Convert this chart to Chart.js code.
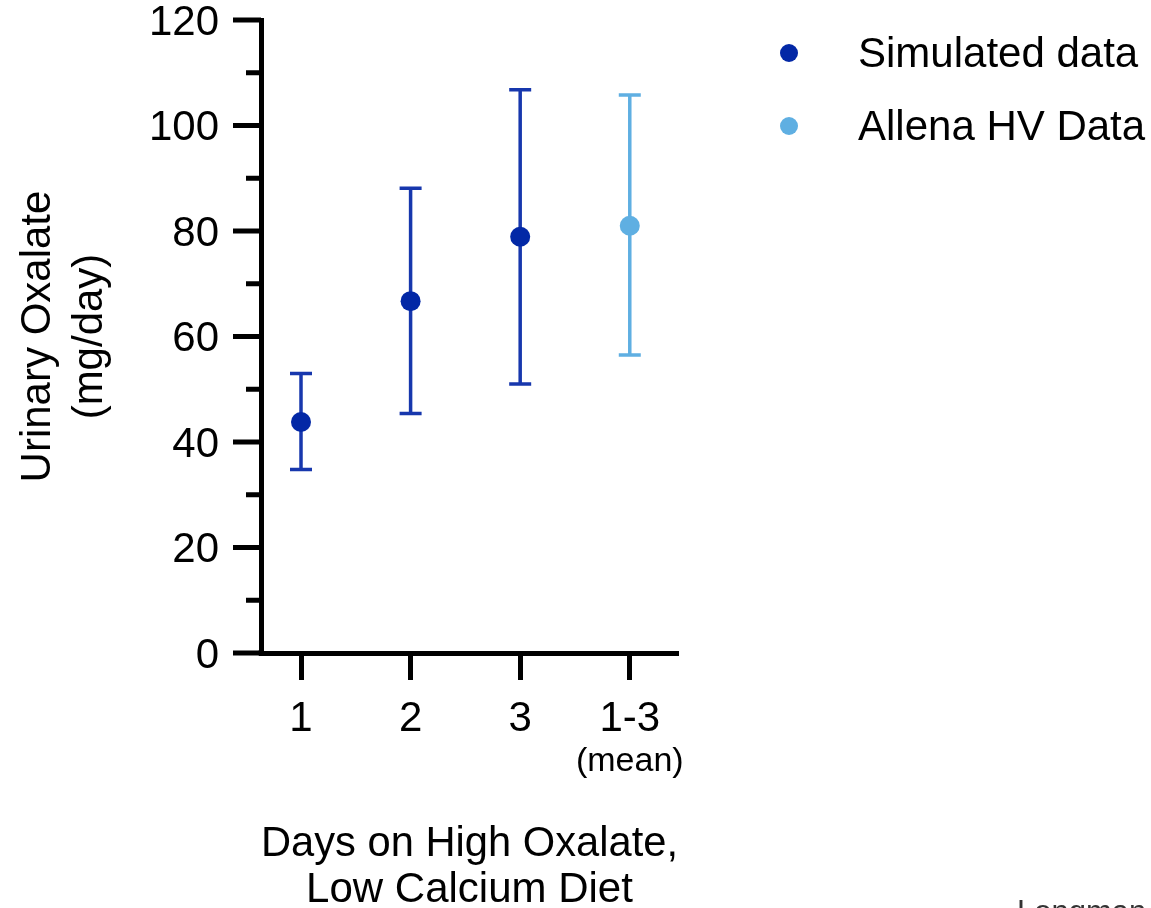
<!DOCTYPE html>
<html lang="en">
<head>
<meta charset="UTF-8">
<title>Urinary Oxalate</title>
<style>
  body { margin: 0; background: #fff; }
  #wrap { width: 1151px; height: 908px; }
</style>
</head>
<body>
<div id="wrap"><canvas id="chart" width="1151" height="908"></canvas></div>
<script src="https://cdn.jsdelivr.net/npm/chart.js"></script>
<script>
// categories on the x axis (position 1..4)
const dayLabels = ['1', '2', '3', '1-3'];
const dayPos = [1, 2, 3, 4];

// simulated data: days 1-3
const simPos = [1, 2, 3];
const simMean = [43.8, 66.7, 78.9];
const simLow = [34.8, 45.4, 51.0];
const simHigh = [53.0, 88.1, 106.8];

// Allena HV data: 1-3 mean
const allenaPos = [4];
const allenaMean = [81.0];
const allenaLow = [56.5];
const allenaHigh = [105.8];

const yTicks = [0, 20, 40, 60, 80, 100, 120];
const yMinorTicks = [10, 30, 50, 70, 90, 110];

const FONT = "'Liberation Sans', Arial, Helvetica, sans-serif";
const DARK = '#0328a6';
const DARK_BAR = '#1737ad';
const LIGHT = '#5fafe2';

Chart.defaults.font.family = FONT;
Chart.defaults.color = '#000';

// error bars drawn behind the points
const errorBars = {
  id: 'errorBars',
  beforeDatasetsDraw(chart) {
    const ctx = chart.ctx;
    const xs = chart.scales.x, ys = chart.scales.y;
    chart.data.datasets.forEach(ds => {
      ctx.save();
      ctx.strokeStyle = ds.barColor;
      ctx.lineWidth = 3.5;
      ds.data.forEach((p, i) => {
        const x = xs.getPixelForValue(p.x);
        const yl = ys.getPixelForValue(ds.low[i]);
        const yh = ys.getPixelForValue(ds.high[i]);
        ctx.beginPath();
        ctx.moveTo(x, yl); ctx.lineTo(x, yh);
        ctx.moveTo(x - 11, yl); ctx.lineTo(x + 11, yl);
        ctx.moveTo(x - 11, yh); ctx.lineTo(x + 11, yh);
        ctx.stroke();
      });
      ctx.restore();
    });
  }
};

// y tick marks, "(mean)" sub label, legend, corner text
const extras = {
  id: 'extras',
  afterDraw(chart) {
    const ctx = chart.ctx;
    const xs = chart.scales.x, ys = chart.scales.y;
    const left = chart.chartArea.left;
    ctx.save();
    ctx.fillStyle = '#000';
    yTicks.forEach(v => {
      const y = ys.getPixelForValue(v);
      ctx.fillRect(left - 28, y - 2.5, 28, 5);
    });
    yMinorTicks.forEach(v => {
      const y = ys.getPixelForValue(v);
      ctx.fillRect(left - 15, y - 2.5, 15, 5);
    });
    // fill the axis corner
    ctx.fillRect(left - 2.5, chart.chartArea.bottom - 2.5, 5, 5);

    ctx.font = '34px ' + FONT;
    ctx.textAlign = 'center';
    ctx.textBaseline = 'middle';
    ctx.fillText('(mean)', xs.getPixelForValue(dayPos[3]), 762);

    // legend
    ctx.textAlign = 'left';
    ctx.font = '42px ' + FONT;
    chart.data.datasets.forEach((ds, i) => {
      const y = 53 + i * 73;
      ctx.fillStyle = ds.backgroundColor;
      ctx.beginPath();
      ctx.arc(789, y, 9, 0, Math.PI * 2);
      ctx.fill();
      ctx.fillStyle = '#000';
      ctx.fillText(ds.label, 858, y + 2);
    });

    ctx.fillStyle = '#333';
    ctx.font = '31px ' + FONT;
    ctx.textBaseline = 'alphabetic';
    ctx.fillText('Longman', 1017, 922);
    ctx.restore();
  }
};

new Chart(document.getElementById('chart'), {
  type: 'scatter',
  data: {
    datasets: [
      {
        label: 'Simulated data',
        data: simPos.map((x, i) => ({ x: x, y: simMean[i] })),
        low: simLow,
        high: simHigh,
        backgroundColor: DARK,
        borderColor: DARK,
        barColor: DARK_BAR,
        pointRadius: 10,
        pointBorderWidth: 0
      },
      {
        label: 'Allena HV Data',
        data: allenaPos.map((x, i) => ({ x: x, y: allenaMean[i] })),
        low: allenaLow,
        high: allenaHigh,
        backgroundColor: LIGHT,
        borderColor: LIGHT,
        barColor: LIGHT,
        pointRadius: 10,
        pointBorderWidth: 0
      }
    ]
  },
  options: {
    responsive: false,
    animation: false,
    events: [],
    layout: { padding: { left: 0, top: 20, right: 473, bottom: 0 } },
    plugins: {
      legend: { display: false },
      tooltip: { enabled: false }
    },
    scales: {
      x: {
        type: 'linear',
        min: 0.635,
        max: 4.44,
        afterBuildTicks: s => { s.ticks = dayPos.map(v => ({ value: v })); },
        afterFit: s => { s.height = 255; },
        border: { display: true, width: 5, color: '#000' },
        grid: {
          drawOnChartArea: false,
          drawTicks: true,
          tickLength: 27,
          tickWidth: 5,
          tickColor: '#000'
        },
        ticks: {
          autoSkip: false,
          maxRotation: 0,
          padding: 18,
          font: { size: 42, lineHeight: 1 },
          callback: (v) => dayLabels[dayPos.indexOf(v)]
        },
        title: {
          display: true,
          text: ['Days on High Oxalate,', 'Low Calcium Diet'],
          font: { size: 42, lineHeight: 1.1 },
          padding: { top: 0, bottom: -6 }
        }
      },
      y: {
        type: 'linear',
        min: 0,
        max: 120,
        afterBuildTicks: s => { s.ticks = yTicks.map(v => ({ value: v })); },
        afterFit: s => { s.width = 261; s.paddingTop = 0; s.paddingBottom = 0; },
        border: { display: true, width: 5, color: '#000' },
        grid: { display: false, drawTicks: false },
        ticks: {
          padding: 42,
          labelOffset: 3,
          font: { size: 42, lineHeight: 1 }
        },
        title: {
          display: true,
          text: ['Urinary Oxalate', '(mg/day)'],
          font: { size: 42, lineHeight: 1.25 },
          padding: { top: 12, bottom: 0 }
        }
      }
    }
  },
  plugins: [errorBars, extras]
});
</script>
</body>
</html>
